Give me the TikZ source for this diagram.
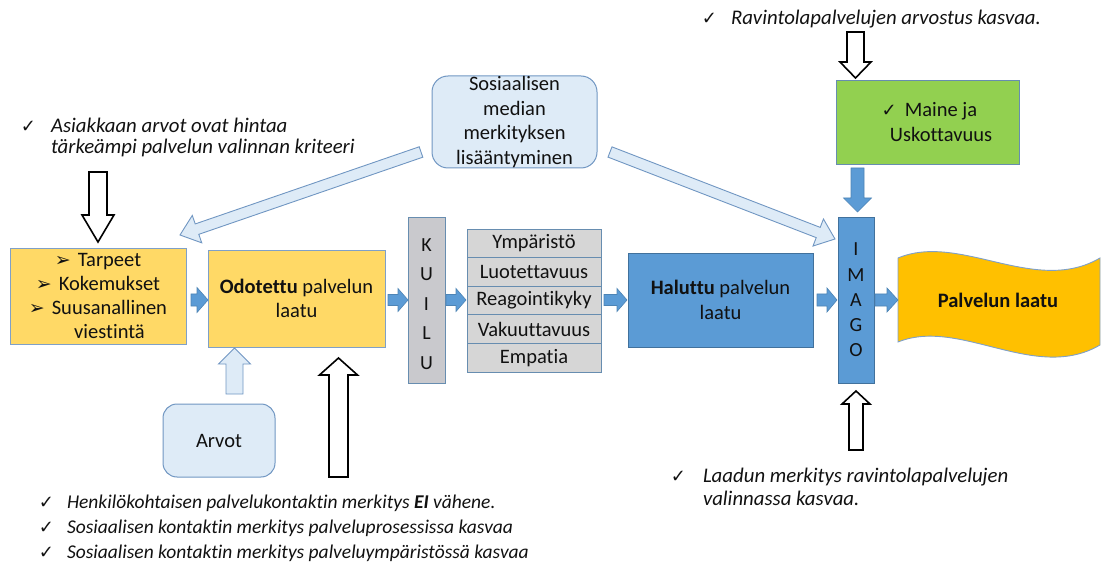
\documentclass[tikz,border=0pt]{standalone}
\usepackage{fontspec}
\setmainfont{Carlito}[Ligatures=NoCommon]
\newfontfamily\symfont{DejaVu Sans}
\usetikzlibrary{calc}

\definecolor{gold}{HTML}{FFD966}
\definecolor{amber}{HTML}{FFC000}
\definecolor{leaf}{HTML}{92D050}
\definecolor{steel}{HTML}{5B9BD5}
\definecolor{steeledge}{HTML}{41719C}
\definecolor{pale}{HTML}{DEEBF7}
\definecolor{paleedge}{HTML}{7096C2}
\definecolor{softedge}{HTML}{7FA0C8}
\definecolor{fog}{HTML}{D6D6D6}
\definecolor{fogdark}{HTML}{C9C9CD}
\definecolor{ink}{HTML}{111111}

% tick and arrow-head bullets
\newcommand\chk{{\symfont\fontsize{18}{18}\selectfont ✓}}
\newcommand\bul{{\symfont\fontsize{19}{19}\selectfont ➢}\hspace{7pt}}

% block arrow: style, start, tip, shaft half-width, head half-width, head length
\newcommand\blockarr[6]{%
  \coordinate (ba-s) at (#2);
  \coordinate (ba-e) at (#3);
  \coordinate (ba-h) at ($(ba-e)!#6!(ba-s)$);
  \draw[#1] ($(ba-s)!#4!90:(ba-e)$) -- ($(ba-h)!#4!90:(ba-e)$)
    -- ($(ba-h)!#5!90:(ba-e)$) -- (ba-e) -- ($(ba-h)!#5!-90:(ba-e)$)
    -- ($(ba-h)!#4!-90:(ba-e)$) -- ($(ba-s)!#4!-90:(ba-e)$) -- cycle;
}

\begin{document}
\begin{tikzpicture}[x=1pt, y=-1pt,
  every node/.style={inner sep=0pt, outer sep=0pt, text=ink},
  boxfont/.style={font=\fontsize{20.5}{24.3}\selectfont},
  goldbox/.style={draw=softedge, line width=0.9pt, fill=gold, boxfont, align=center},
  greybar/.style={draw=steeledge!80, line width=0.9pt, fill=fogdark},
  cell/.style={draw=steeledge!80, line width=0.9pt, fill=fog, boxfont,
    minimum width=134, minimum height=28.6},
  bluebox/.style={draw=steeledge, line width=0.9pt, fill=steel, boxfont, align=center},
  softbox/.style={draw=paleedge, line width=1pt, fill=pale, boxfont, align=center},
  greenbox/.style={draw=steeledge!80, line width=0.9pt, fill=leaf},
  note/.style={font=\fontsize{19.5}{22}\selectfont\itshape, anchor=base west},
  bignote/.style={note, font=\fontsize{20.8}{22}\selectfont\itshape},
  bluearr/.style={fill=steel, draw=steel!85!black, line width=0.6pt},
  palearr/.style={fill=pale, draw=paleedge, line width=0.9pt},
  openarr/.style={fill=white, draw=black, line width=1.6pt, line join=miter},
]
\useasboundingbox (0,0) rectangle (1101,564);

% main chain of boxes
\node[goldbox, minimum width=176, minimum height=96] (tarp) at (98,296)
  {\bul Tarpeet\\\bul Kokemukset\\\bul Suusanallinen\\\hspace*{23pt}viestintä};
\node[goldbox, minimum width=177, minimum height=97] (odo) at (296.5,298.5)
  {\textbf{Odotettu} palvelun\\laatu};
\node[greybar, minimum width=37, minimum height=166] (kuilu) at (426.5,300) {};
\node[font=\fontsize{20}{29.5}\selectfont, align=center] (kuilutxt) at (426.5,304)
  {K\\U\\I\\L\\U};

\node[cell] (t1) at (534,243.3) {Ympäristö};
\node[cell] (t2) at (534,271.9) {Luotettavuus};
\node[cell] (t3) at (534,300.5) {Reagointikyky};
\node[cell] (t4) at (534,329.1) {Vakuuttavuus};
\node[cell] (t5) at (534,357.7) {Empatia};

\node[bluebox, minimum width=185, minimum height=94] (hal) at (720.5,300)
  {\textbf{Haluttu} palvelun\\laatu};
\node[bluebox, minimum width=36, minimum height=166,
  font=\fontsize{20}{25.3}\selectfont] (imago) at (856,300) {I\\M\\A\\G\\O};

% wavy result shape
\draw[draw=softedge, line width=0.9pt, fill=amber]
  (898,258) .. controls (960,232) and (1035,296) .. (1100,258)
  -- (1100,345) .. controls (1035,383) and (960,317) .. (898,342) -- cycle;
\coordinate (wavein) at (898,300);
\node[boxfont] (pl) at (998,300) {\textbf{Palvelun laatu}};

% upper and lower boxes
\node[greenbox, minimum width=183, minimum height=84] (maine) at (927.5,122) {};
\node[boxfont, align=center] (mainetxt) at (941,122)
  {\llap{\chk\hspace{8pt}}Maine ja\\Uskottavuus};
\node[softbox, rounded corners=16, minimum width=165, minimum height=92,
  font=\fontsize{20.5}{24.5}\selectfont] (sm) at (514.5,122)
  {Sosiaalisen\\median\\merkityksen\\lisääntyminen};
\node[softbox, rounded corners=14, minimum width=112, minimum height=73] (arvot)
  at (219,440.5) {Arvot};

% flow arrows
\blockarr{bluearr}{$(tarp.east)+(5,4)$}{$(odo.west)+(0,1.5)$}{6pt}{12.5pt}{11pt}
\blockarr{bluearr}{$(odo.east)+(3,1.5)$}{kuilu.west}{5.5pt}{11.5pt}{10pt}
\blockarr{bluearr}{$(kuilu.east)+(1,0)$}{$(t3.west)+(-1,-0.5)$}{5.5pt}{11.5pt}{10pt}
\blockarr{bluearr}{$(t3.east)+(3,-0.5)$}{$(hal.west)+(-1,0)$}{5.5pt}{11.5pt}{10pt}
\blockarr{bluearr}{$(hal.east)+(4,0)$}{$(imago.west)+(-1,0)$}{6pt}{12pt}{10pt}
\blockarr{bluearr}{$(imago.east)+(1,0)$}{wavein}{6pt}{12pt}{11pt}
\blockarr{bluearr}{$(imago.north)+(1.5,-49)$}{$(imago.north)+(1.5,-5)$}{6.5pt}{14pt}{14pt}

% influence arrows
\blockarr{palearr}{$(arvot.north)+(15.5,-10)$}{$(odo.south)+(-62,1)$}{8.5pt}{16pt}{16pt}
\blockarr{palearr}{$(sm.west)+(-11,30)$}{$(tarp.north east)+(-6,-13)$}{5.5pt}{14.5pt}{18pt}
\blockarr{palearr}{$(sm.east)+(13,30)$}{$(imago.north west)+(-3,22)$}{5.5pt}{14.5pt}{18pt}

\blockarr{openarr}{$(maine.north)+(-72,-48)$}{$(maine.north)+(-72,-2)$}{8.5pt}{15.5pt}{16pt}
\blockarr{openarr}{$(tarp.north)+(0,-76)$}{$(tarp.north)+(0,-6)$}{9pt}{16pt}{27pt}
\blockarr{openarr}{$(odo.south)+(42,130)$}{$(odo.south)+(42,11)$}{9.5pt}{19pt}{17pt}
\blockarr{openarr}{$(imago.south)+(0,67)$}{$(imago.south)+(0,8)$}{7pt}{14pt}{13pt}

% notes
\node[bignote] (rav) at (731,25) {\llap{\chk\hspace{14pt}}Ravintolapalvelujen arvostus kasvaa.};
\node[bignote] (asia1) at (51,133) {\llap{\chk\hspace{15pt}}Asiakkaan arvot ovat hintaa};
\node[bignote] (asia2) at (51,154) {tärkeämpi palvelun valinnan kriteeri};
\node[bignote] (laa1) at (703,482) {\llap{\chk\hspace{17pt}}Laadun merkitys ravintolapalvelujen};
\node[bignote] (laa2) at (703,505) {valinnassa kasvaa.};
\node[note] (hen) at (67,508) {\llap{\chk\hspace{13pt}}Henkilökohtaisen palvelukontaktin merkitys \textbf{EI} vähene.};
\node[note] (sos1) at (67,533) {\llap{\chk\hspace{13pt}}Sosiaalisen kontaktin merkitys palveluprosessissa kasvaa};
\node[note] (sos2) at (67,558) {\llap{\chk\hspace{13pt}}Sosiaalisen kontaktin merkitys palveluympäristössä kasvaa};
\end{tikzpicture}
\end{document}
